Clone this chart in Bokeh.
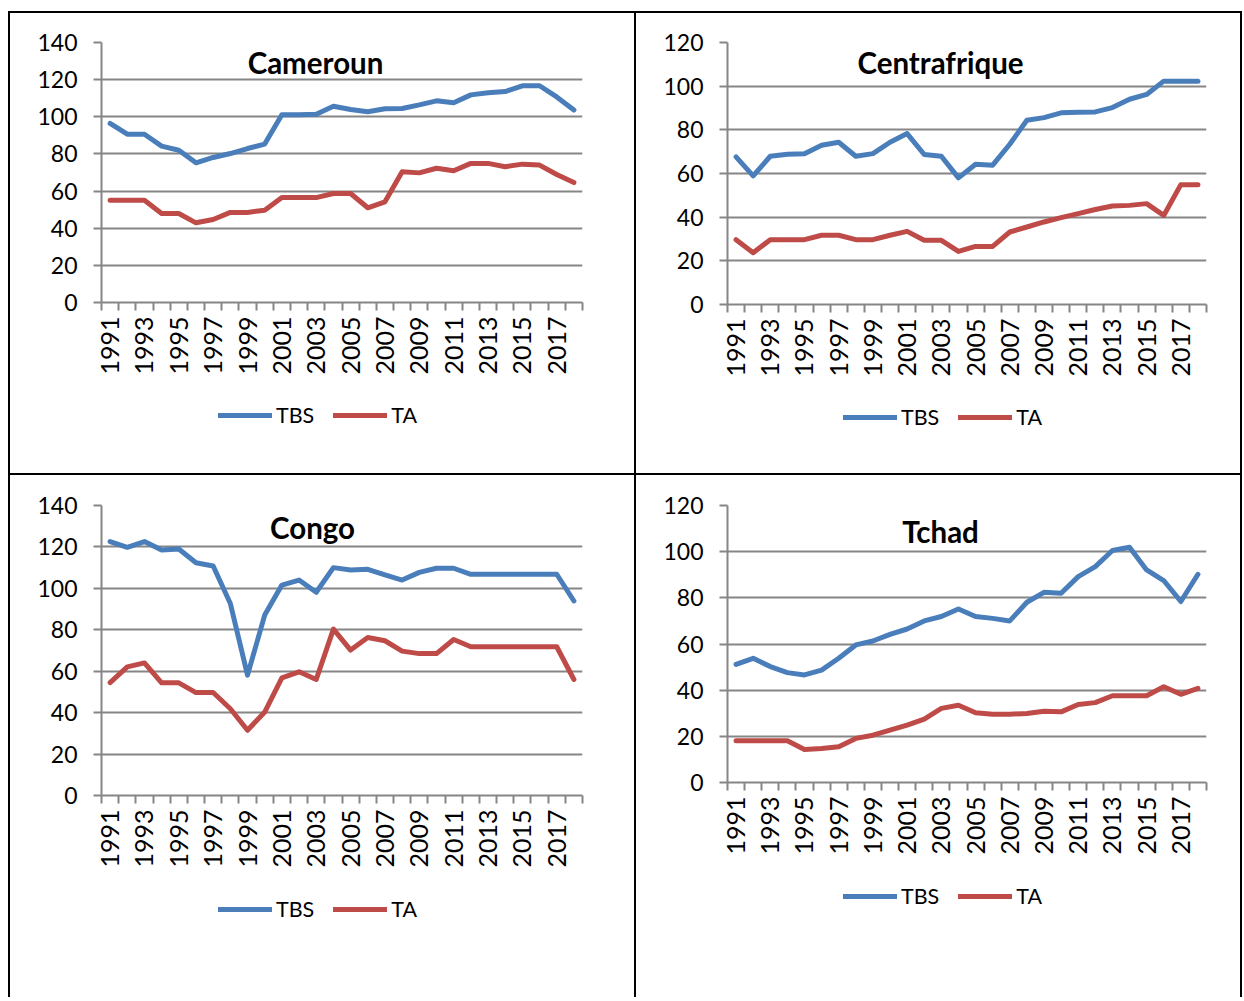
import math
from bokeh.plotting import figure
from bokeh.models import FixedTicker, Label, Spacer, Legend, LegendItem
from bokeh.layouts import column, row
from bokeh.embed import file_html
from bokeh.resources import INLINE

years = list(range(1991, 2019))

cameroun_tbs = [96.4, 90.6, 90.6, 84.2, 82.0, 75.2, 78.1, 80.2, 82.9, 85.3, 101.1, 101.1, 101.4, 105.7,
                103.9, 102.7, 104.3, 104.5, 106.4, 108.6, 107.5, 111.8, 112.9, 113.6, 116.7, 116.7, 110.7, 103.6]
cameroun_ta = [55.1, 55.1, 55.1, 47.9, 47.9, 42.9, 44.7, 48.5, 48.5, 49.7, 56.5, 56.5, 56.5, 58.7,
               58.7, 51.0, 54.2, 70.4, 69.8, 72.3, 70.9, 74.9, 74.9, 73.1, 74.5, 74.0, 68.9, 64.6]

centrafrique_tbs = [67.6, 58.9, 67.9, 68.8, 69.1, 72.9, 74.3, 67.9, 69.1, 74.3, 78.3, 68.7, 67.9, 58.0,
                    64.2, 63.8, 73.4, 84.4, 85.6, 87.8, 88.1, 88.2, 90.2, 94.0, 96.2, 102.3, 102.3, 102.3]
centrafrique_ta = [29.7, 23.7, 29.7, 29.7, 29.7, 31.7, 31.7, 29.7, 29.7, 31.7, 33.5, 29.4, 29.4, 24.3,
                   26.6, 26.6, 33.2, 35.5, 37.8, 39.8, 41.6, 43.5, 45.1, 45.4, 46.2, 40.8, 54.9, 54.9]

congo_tbs = [122.6, 119.8, 122.6, 118.5, 119.0, 112.4, 110.8, 92.7, 58.1, 87.1, 101.6, 104.0, 98.1, 110.0,
             108.9, 109.2, 106.5, 104.0, 107.7, 109.7, 109.7, 106.8, 106.8, 106.8, 106.8, 106.8, 106.8, 93.9]
congo_ta = [54.5, 62.1, 64.0, 54.4, 54.4, 49.7, 49.7, 41.9, 31.5, 40.3, 56.8, 59.7, 56.0, 80.3,
            70.2, 76.3, 74.7, 69.7, 68.5, 68.5, 75.3, 71.8, 71.8, 71.8, 71.8, 71.8, 71.8, 56.0]

tchad_tbs = [51.2, 53.8, 50.2, 47.6, 46.6, 48.7, 53.8, 59.6, 61.3, 64.2, 66.5, 70.0, 71.9, 75.2,
             71.9, 71.1, 70.0, 78.1, 82.4, 82.0, 89.2, 93.5, 100.5, 101.9, 92.1, 87.5, 78.4, 90.2]
tchad_ta = [18.1, 18.1, 18.1, 18.1, 14.3, 14.7, 15.5, 19.1, 20.5, 22.7, 24.9, 27.5, 32.1, 33.5,
            30.2, 29.6, 29.6, 29.9, 30.9, 30.6, 33.8, 34.6, 37.6, 37.6, 37.6, 41.5, 38.2, 40.8]

series_names = ["TBS", "TA"]
titles = ["Cameroun", "Centrafrique", "Congo", "Tchad"]
y_max = [140, 120, 140, 120]

BLUE = "#4A7EBB"
RED = "#BE4B48"
GRID = "#868686"
FONT = "Lato"
LINE = dict(line_width=5, line_join="round", line_cap="round")


def make_chart(title, tbs, ta, ymax, width, frame_w, frame_h, top, bottom, title_xy):
    left = 91
    right = width - left - frame_w
    p = figure(width=width, height=top + frame_h + bottom, output_backend="svg",
               toolbar_location=None,
               x_range=(years[0] - 0.5, years[-1] + 0.5), y_range=(0, ymax),
               min_border_left=left, min_border_right=right,
               min_border_top=top, min_border_bottom=bottom,
               background_fill_color="white", border_fill_color="white")
    p.outline_line_color = None
    p.xgrid.visible = False
    p.ygrid.grid_line_color = GRID
    p.ygrid.grid_line_width = 2

    p.line(years, tbs, line_color=BLUE, **LINE)
    p.line(years, ta, line_color=RED, **LINE)

    p.yaxis.ticker = FixedTicker(ticks=list(range(0, ymax + 1, 20)))
    p.yaxis.axis_line_color = GRID
    p.yaxis.axis_line_width = 2
    p.yaxis.major_tick_line_color = GRID
    p.yaxis.major_tick_line_width = 2
    p.yaxis.major_tick_out = 8
    p.yaxis.major_tick_in = 0
    p.yaxis.minor_tick_line_color = None
    p.yaxis.major_label_standoff = 16
    p.yaxis.major_label_text_font = FONT
    p.yaxis.major_label_text_font_size = "23px"
    p.yaxis.major_label_text_color = "black"

    p.xaxis.ticker = FixedTicker(ticks=years[::2],
                                 minor_ticks=[y - 0.5 for y in years] + [years[-1] + 0.5])
    p.xaxis.axis_line_color = GRID
    p.xaxis.axis_line_width = 2
    p.xaxis.major_tick_line_color = None
    p.xaxis.major_tick_out = 0
    p.xaxis.major_tick_in = 0
    p.xaxis.minor_tick_line_color = GRID
    p.xaxis.minor_tick_line_width = 2
    p.xaxis.minor_tick_out = 8
    p.xaxis.minor_tick_in = 0
    p.xaxis.major_label_orientation = math.pi / 2
    p.xaxis.major_label_standoff = 6
    p.xaxis.major_label_text_font = FONT
    p.xaxis.major_label_text_font_size = "25px"
    p.xaxis.major_label_text_color = "black"

    p.add_layout(Label(x=title_xy[0], y=title_xy[1], x_units="screen", y_units="screen",
                       text=title, text_align="center", text_baseline="middle",
                       text_font=FONT, text_font_style="bold", text_font_size="29.5px",
                       text_color="black"))
    return p


def make_legend(tbs, ta, width, height, loc):
    # strip below each chart that carries the chart's legend
    q = figure(width=width, height=height, output_backend="svg", toolbar_location=None,
               x_axis_location=None, y_axis_location=None,
               x_range=(years[0] - 0.5, years[-1] + 0.5), y_range=(1000, 1001),
               min_border=0, background_fill_color="white", border_fill_color="white")
    q.outline_line_color = None
    q.grid.visible = False
    r1 = q.line(years, tbs, line_color=BLUE, **LINE)
    r2 = q.line(years, ta, line_color=RED, **LINE)
    lg = Legend(items=[LegendItem(label=series_names[0], renderers=[r1]),
                       LegendItem(label=series_names[1], renderers=[r2])],
                orientation="horizontal", location=loc,
                padding=0, margin=0, spacing=19, label_standoff=4,
                glyph_width=54, glyph_height=20, label_height=20,
                border_line_color=None, background_fill_alpha=0,
                label_text_font=FONT, label_text_font_size="21.5px", label_text_color="black")
    q.add_layout(lg, "center")
    return q


p1 = make_chart(titles[0], cameroun_tbs, cameroun_ta, y_max[0], 624, 481, 260, 29, 85, (214, 240))
l1 = make_legend(cameroun_tbs, cameroun_ta, 624, 86, (117, 45))
p2 = make_chart(titles[1], centrafrique_tbs, centrafrique_ta, y_max[1], 604, 479, 262, 29, 85, (213, 242))
l2 = make_legend(centrafrique_tbs, centrafrique_ta, 604, 84, (116, 43))
p3 = make_chart(titles[2], congo_tbs, congo_ta, y_max[2], 624, 481, 290, 30, 85, (211, 268))
l3 = make_legend(congo_tbs, congo_ta, 624, 117, (117, 75))
p4 = make_chart(titles[3], tchad_tbs, tchad_ta, y_max[3], 604, 479, 277, 30, 85, (213, 251))
l4 = make_legend(tchad_tbs, tchad_ta, 604, 130, (116, 88))


def blk(w, h):
    return Spacer(width=w, height=h, margin=0, styles={"background-color": "black"})


row1 = row(blk(2, 460), column(p1, l1, margin=0), blk(2, 460),
           column(p2, l2, margin=0), blk(2, 460), margin=0)
row2 = row(blk(2, 522), column(p3, l3, margin=0), blk(2, 522),
           column(p4, l4, margin=0), blk(2, 522), margin=0)

table = column(blk(1234, 2), row1, blk(1234, 2), row2, margin=0)
layout = column(Spacer(width=1242, height=11, margin=0),
                row(Spacer(width=8, height=10, margin=0), table, margin=0),
                margin=0)

open("out.html", "w").write(file_html(layout, INLINE))
